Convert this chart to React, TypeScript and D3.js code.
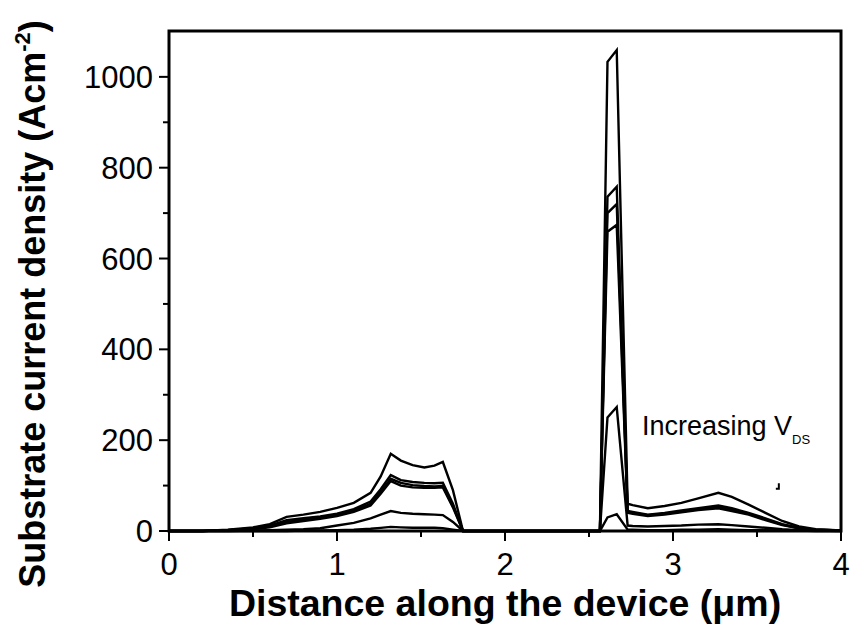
import React from "react";
import * as d3 from "d3";

// Shared x positions (µm)
const xs = [0, 0.2, 0.35, 0.5, 0.6, 0.7, 0.8, 0.9, 1.0, 1.1, 1.2, 1.26, 1.32, 1.38, 1.45, 1.52, 1.58, 1.63, 1.69, 1.75, 2.0, 2.3, 2.565, 2.61, 2.665, 2.73, 2.76, 2.85, 2.95, 3.05, 3.15, 3.27, 3.35, 3.45, 3.55, 3.65, 3.75, 3.85, 4.0];

// Substrate current density (A cm^-2) for increasing V_DS
const s1 = [0, 0, 3, 8, 15, 31, 36, 42, 51, 62, 84, 120, 170, 155, 145, 140, 144, 152, 90, 0, 0, 0, 0, 1033, 1059, 60, 57, 50, 55, 62, 72, 84, 75, 58, 40, 22, 10, 4, 1];
const s2 = [0, 0, 2, 6, 12, 24, 28, 32, 38, 48, 65, 92, 123, 112, 108, 106, 105, 106, 60, 0, 0, 0, 0, 736, 758, 44, 42, 36, 40, 45, 50, 56, 50, 40, 28, 15, 7, 3, 1];
const s3 = [0, 0, 2, 5, 10, 20, 25, 30, 36, 45, 60, 86, 115, 106, 101, 99, 98, 99, 55, 0, 0, 0, 0, 700, 720, 42, 40, 35, 38, 43, 48, 53, 47, 38, 26, 14, 6, 3, 1];
const s4 = [0, 0, 2, 4, 8, 17, 22, 27, 33, 42, 56, 82, 110, 100, 96, 95, 95, 96, 52, 0, 0, 0, 0, 659, 674, 40, 38, 33, 36, 41, 46, 50, 44, 36, 24, 13, 6, 2, 1];
const s5 = [0, 0, 0, 1, 2, 3, 4, 6, 12, 18, 28, 36, 44, 40, 38, 37, 36, 35, 20, 0, 0, 0, 0, 250, 273, 12, 11, 10, 11, 12, 14, 15, 13, 10, 7, 4, 2, 1, 0];
const s6 = [0, 0, 0, 0, 0, 0, 1, 1, 2, 3, 5, 7, 9, 8, 7, 7, 7, 6, 3, 0, 0, 0, 0, 30, 37, 3, 3, 2, 2, 3, 3, 4, 3, 2, 2, 1, 1, 0, 0];
const seriesList = [s1, s2, s3, s4, s5, s6];

const xTicks = [0, 1, 2, 3, 4];
const xMinor = [0.5, 1.5, 2.5, 3.5];
const yTicks = [0, 200, 400, 600, 800, 1000];
const yMinor = [100, 300, 500, 700, 900];

const W = 851, H = 630;
const L = 169, R = 841, T = 31, B = 531;

export default function App() {
  const x = d3.scaleLinear().domain([0, 4]).range([L, R]);
  const y = d3.scaleLinear().domain([0, 1101]).range([B, T]);
  const line = d3.line<number>().x((_, i) => x(xs[i])).y((d) => y(d));
  const font = "'Liberation Sans', Arial, sans-serif";
  return (
    <svg width={W} height={H} style={{ position: "absolute", left: 0, top: 0, background: "#fff" }}>
      <rect x={0} y={0} width={W} height={H} fill="#fff" />
      {seriesList.map((s, i) => (
        <path key={i} d={line(s) || ""} fill="none" stroke="#000" strokeWidth={2.4} strokeLinejoin="miter" />
      ))}
      {/* frame */}
      <rect x={L} y={T} width={R - L} height={B - T} fill="none" stroke="#000" strokeWidth={3} />
      {/* x ticks */}
      {xTicks.map((t) => (
        <g key={"xt" + t}>
          <line x1={x(t)} x2={x(t)} y1={B} y2={B + 10} stroke="#000" strokeWidth={2} />
          <text x={x(t)} y={B + 44} textAnchor="middle" fontFamily={font} fontSize={31}>{t}</text>
        </g>
      ))}
      {xMinor.map((t) => (
        <line key={"xm" + t} x1={x(t)} x2={x(t)} y1={B} y2={B + 6} stroke="#000" strokeWidth={2} />
      ))}
      {yTicks.map((t) => (
        <g key={"yt" + t}>
          <line x1={L - 10} x2={L} y1={y(t)} y2={y(t)} stroke="#000" strokeWidth={2} />
          <text x={L - 16} y={y(t) + 11} textAnchor="end" fontFamily={font} fontSize={31}>{t}</text>
        </g>
      ))}
      {yMinor.map((t) => (
        <line key={"ym" + t} x1={L - 6} x2={L} y1={y(t)} y2={y(t)} stroke="#000" strokeWidth={2} />
      ))}
      {/* axis titles */}
      <text x={505} y={616} textAnchor="middle" fontFamily={font} fontSize={37.5} fontWeight="bold">
        Distance along the device (μm)
      </text>
      <text transform="translate(45,304) rotate(-90)" textAnchor="middle" fontFamily={font} fontSize={36} fontWeight="bold">
        Substrate current density (Acm<tspan dy={-15} fontSize={22}>-2</tspan><tspan dy={15}>)</tspan>
      </text>
      {/* annotation */}
      <text x={642} y={435} fontFamily={font} fontSize={27}>
        Increasing V<tspan dy={9} fontSize={13}>DS</tspan>
      </text>
      <path d={`M${x(3.63)},${y(105)} L${x(3.63)},${y(93)} M${x(3.63) - 3},${y(93)} L${x(3.63) + 1},${y(93)}`} stroke="#000" strokeWidth={2} fill="none" />
    </svg>
  );
}
